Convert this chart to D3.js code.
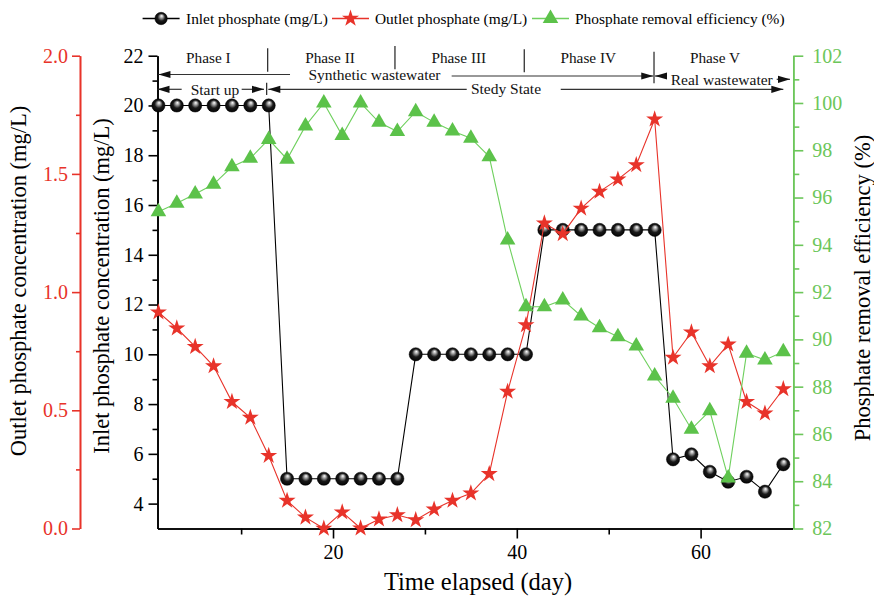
<!DOCTYPE html>
<html>
<head>
<meta charset="utf-8">
<script src="https://cdn.jsdelivr.net/npm/d3@7"></script>
<style>
  html, body { margin: 0; padding: 0; background: #fff; }
  svg { display: block; }
  text { font-family: "Liberation Serif", "Times New Roman", serif; }
</style>
</head>
<body>
<svg id="chart" width="874" height="598"></svg>
<script>
// ---------------- DATA ----------------
const days = [1,3,5,7,9,11,13,15,17,19,21,23,25,27,29,31,33,35,37,39,41,43,45,47,49,51,53,55,57,59,61,63,65,67,69];
const inletP = [20,20,20,20,20,20,20, 5,5,5,5,5,5,5, 10,10,10,10,10,10,10, 15,15,15,15,15,15,15, 5.78,5.98,5.28,4.88,5.08,4.48,5.58];
const outletP = [0.915,0.847,0.769,0.687,0.536,0.469,0.308,0.118,0.047,0.0,0.069,0.001,0.039,0.057,0.036,0.081,0.118,0.149,0.231,0.579,0.861,1.291,1.246,1.354,1.425,1.477,1.538,1.731,0.723,0.83,0.687,0.779,0.536,0.487,0.59];
const efficiency = [95.40,95.76,96.15,96.56,97.30,97.66,98.46,97.62,99.03,100.0,98.62,100.0,99.18,98.79,99.63,99.18,98.81,98.51,97.73,94.2,91.38,91.38,91.67,90.99,90.49,90.11,89.72,88.45,87.51,86.2,86.98,84.14,89.41,89.13,89.48];

const seriesNames = ["Inlet phosphate (mg/L)", "Outlet phosphate (mg/L)", "Phosphate removal efficiency (%)"];
const xTicks = [20, 40, 60];
const xMinor = [10, 30, 50];
const inletTicks = [4,6,8,10,12,14,16,18,20,22];
const inletMinor = [5,7,9,11,13,15,17,19,21];
const outletTicks = [0.0, 0.5, 1.0, 1.5, 2.0];
const outletMinor = [0.25, 0.75, 1.25, 1.75];
const effTicks = [82,84,86,88,90,92,94,96,98,100,102];
const effMinor = [83,85,87,89,91,93,95,97,99,101];

const phaseLabels = ["Phase I", "Phase II", "Phase III", "Phase IV", "Phase V"];
const phaseCenters = [6.43, 19.67, 33.69, 47.78, 61.57];   // day units
const phaseBounds = [12.89, 26.74, 40.81, 54.93];          // day units

// ---------------- LAYOUT ----------------
const red = "#e8332a", green = "#5cc24a", greenAxis = "#6cc65a", black = "#000";
const plotL = 157.5, plotR = 792.5, plotT = 55.7, plotB = 528.5;

const svg = d3.select("#chart");

const x = d3.scaleLinear().domain([0.9, 70]).range([plotL, plotR]);
const yIn = d3.scaleLinear().domain([3, 22]).range([plotB, plotT]);
const yOut = d3.scaleLinear().domain([0, 2]).range([plotB, plotT]);
const yEff = d3.scaleLinear().domain([82, 102]).range([plotB, plotT]);

// gradient for ball markers
const defs = svg.append("defs");
const grad = defs.append("radialGradient").attr("id", "ball")
  .attr("cx", "50%").attr("cy", "50%").attr("r", "55%")
  .attr("fx", "55%").attr("fy", "28%");
grad.append("stop").attr("offset", "0%").attr("stop-color", "#ffffff");
grad.append("stop").attr("offset", "22%").attr("stop-color", "#aaaaaa");
grad.append("stop").attr("offset", "55%").attr("stop-color", "#1a1a1a");
grad.append("stop").attr("offset", "100%").attr("stop-color", "#000000");

// ---------------- AXES ----------------
function styleAxis(g, color, fontSize) {
  g.attr("font-family", null);
  g.selectAll("path.domain").attr("stroke", color).attr("stroke-width", 1.6);
  g.selectAll(".tick line").attr("stroke", color).attr("stroke-width", 1.6);
  g.selectAll(".tick text").attr("fill", color)
    .style("font-family", '"Liberation Serif", "Times New Roman", serif')
    .style("font-size", fontSize + "px");
}

// bottom axis
const gxMinor = svg.append("g").attr("transform", `translate(0,${plotB})`)
  .call(d3.axisBottom(x).tickValues(xMinor).tickSize(6).tickSizeOuter(0).tickFormat(""));
styleAxis(gxMinor, black, 20);
const gx = svg.append("g").attr("transform", `translate(0,${plotB})`)
  .call(d3.axisBottom(x).tickValues(xTicks).tickSize(10).tickSizeOuter(0).tickPadding(6).tickFormat(d3.format("d")));
styleAxis(gx, black, 20);

// inlet (left, black)
const gInMinor = svg.append("g").attr("transform", `translate(${plotL},0)`)
  .call(d3.axisLeft(yIn).tickValues(inletMinor).tickSize(5).tickSizeOuter(0).tickFormat(""));
styleAxis(gInMinor, black, 20);
const gIn = svg.append("g").attr("transform", `translate(${plotL},0)`)
  .call(d3.axisLeft(yIn).tickValues(inletTicks).tickSize(9).tickSizeOuter(0).tickPadding(5).tickFormat(d3.format("d")));
styleAxis(gIn, black, 20);

// outlet (far left, red)
const outX = 80;
const gOutMinor = svg.append("g").attr("transform", `translate(${outX},0)`)
  .call(d3.axisLeft(yOut).tickValues(outletMinor).tickSize(4).tickSizeOuter(0).tickFormat(""));
styleAxis(gOutMinor, red, 20);
const gOut = svg.append("g").attr("transform", `translate(${outX},0)`)
  .call(d3.axisLeft(yOut).tickValues(outletTicks).tickSize(8).tickSizeOuter(0).tickPadding(4).tickFormat(d3.format(".1f")));
styleAxis(gOut, red, 20);

// efficiency (right, green)
const effX = 793.3;
const gEffMinor = svg.append("g").attr("transform", `translate(${effX},0)`)
  .call(d3.axisRight(yEff).tickValues(effMinor).tickSize(6).tickSizeOuter(0).tickFormat(""));
styleAxis(gEffMinor, greenAxis, 20);
const gEff = svg.append("g").attr("transform", `translate(${effX},0)`)
  .call(d3.axisRight(yEff).tickValues(effTicks).tickSize(10).tickSizeOuter(0).tickPadding(9).tickFormat(d3.format("d")));
styleAxis(gEff, greenAxis, 20);

// axis titles
svg.append("text").attr("transform", `translate(26,281) rotate(-90)`)
  .attr("text-anchor", "middle").style("font-size", "22.5px").attr("fill", "#000")
  .text("Outlet phosphate concentration (mg/L)");
svg.append("text").attr("transform", `translate(109,286) rotate(-90)`)
  .attr("text-anchor", "middle").style("font-size", "22.5px").attr("fill", "#000")
  .text("Inlet phosphate concentration (mg/L)");
svg.append("text").attr("transform", `translate(870,288) rotate(-90)`)
  .attr("text-anchor", "middle").style("font-size", "22.5px").attr("fill", "#000")
  .text("Phosphate removal efficiency (%)");
svg.append("text").attr("x", 478).attr("y", 590)
  .attr("text-anchor", "middle").style("font-size", "24.5px").attr("fill", "#000")
  .text("Time elapsed (day)");

// ---------------- SERIES ----------------
const starSym = d3.symbol().type(d3.symbolStar).size(90);
const triSym = d3.symbol().type(d3.symbolTriangle).size(105);

const inletData = days.map((d, i) => ({ d, v: inletP[i] }));
const outletData = days.map((d, i) => ({ d, v: outletP[i] }));
const effData = days.map((d, i) => ({ d, v: efficiency[i] }));

// inlet
svg.append("path").datum(inletData)
  .attr("fill", "none").attr("stroke", "#000").attr("stroke-width", 1.1)
  .attr("d", d3.line().x(p => x(p.d)).y(p => yIn(p.v)));
svg.append("g").selectAll("circle").data(inletData).join("circle")
  .attr("cx", p => x(p.d)).attr("cy", p => yIn(p.v)).attr("r", 6.6)
  .attr("fill", "url(#ball)").attr("stroke", "#000").attr("stroke-width", 0.5);

// outlet
svg.append("path").datum(outletData)
  .attr("fill", "none").attr("stroke", red).attr("stroke-width", 1.1)
  .attr("d", d3.line().x(p => x(p.d)).y(p => yOut(p.v)));
svg.append("g").selectAll("path").data(outletData).join("path")
  .attr("transform", p => `translate(${x(p.d)},${yOut(p.v)})`)
  .attr("d", starSym).attr("fill", red);

// efficiency
svg.append("path").datum(effData)
  .attr("fill", "none").attr("stroke", "#6fd05e").attr("stroke-width", 1.1)
  .attr("d", d3.line().x(p => x(p.d)).y(p => yEff(p.v)));
svg.append("g").selectAll("path").data(effData).join("path")
  .attr("transform", p => `translate(${x(p.d)},${yEff(p.v)})`)
  .attr("d", triSym).attr("fill", green);

// ---------------- PHASE ANNOTATIONS ----------------
const ann = svg.append("g");
const annColor = "#222";
const sepY = [[48.3, 71.7], [46, 69.3], [49.3, 72.3], [51.7, 83.3]];
phaseBounds.forEach((b, i) => {
  ann.append("line").attr("x1", x(b)).attr("x2", x(b))
    .attr("y1", sepY[i][0]).attr("y2", sepY[i][1])
    .attr("stroke", annColor).attr("stroke-width", 1.2);
});
// small separator in the start-up row
ann.append("line").attr("x1", x(12.78)).attr("x2", x(12.78)).attr("y1", 82.7).attr("y2", 95)
  .attr("stroke", annColor).attr("stroke-width", 1.2);

phaseLabels.forEach((t, i) => {
  ann.append("text").attr("x", x(phaseCenters[i])).attr("y", 62.8)
    .attr("text-anchor", "middle").style("font-size", "15.3px").attr("fill", "#111").text(t);
});

function arrow(d1, d2, y1, y2, headAt) {
  const xa = x(d1), xb = x(d2);
  ann.append("line").attr("x1", xa).attr("x2", xb).attr("y1", y1).attr("y2", y2)
    .attr("stroke", "#333").attr("stroke-width", 1.2);
  const L = 12, W = 3.6;
  if (headAt === "start") {
    ann.append("path").attr("d", `M${xa},${y1} L${xa + L},${y1 - W} L${xa + L},${y1 + W} Z`).attr("fill", "#111");
  } else {
    ann.append("path").attr("d", `M${xb},${y2} L${xb - L},${y2 - W} L${xb - L},${y2 + W} Z`).attr("fill", "#111");
  }
}
// Synthetic wastewater
arrow(1.0, 15.32, 74.5, 74.5, "start");
arrow(32.91, 54.85, 76, 76, "end");
// Real wastewater
arrow(55.04, 56.34, 76, 76, "start");
arrow(68.28, 69.73, 79.3, 79.3, "end");
// Start up
arrow(0.9, 3.53, 89.3, 89.3, "start");
arrow(10.06, 12.49, 89.3, 89.3, "end");
// Stedy State
arrow(12.96, 34.55, 89.3, 89.3, "start");
arrow(44.78, 69.0, 89.3, 89.3, "end");

const annTexts = [
  { t: "Synthetic wastewater", d: 24.51, y: 79.8 },
  { t: "Real wastewater", d: 62.3, y: 84.8 },
  { t: "Start up", d: 7.16, y: 94.6 },
  { t: "Stedy State", d: 38.82, y: 93.8 }
];
annTexts.forEach(a => {
  ann.append("text").attr("x", x(a.d)).attr("y", a.y).attr("text-anchor", "middle")
    .style("font-size", "15.5px").attr("fill", "#111").text(a.t);
});

// ---------------- LEGEND ----------------
const leg = svg.append("g");
const legY = 18.5;
const legItems = [
  { x0: 142.6, tx: 186, color: "#000", type: "ball" },
  { x0: 332, tx: 375, color: red, type: "star" },
  { x0: 532, tx: 575, color: "#6fd05e", type: "tri" }
];
legItems.forEach((it, i) => {
  leg.append("line").attr("x1", it.x0).attr("x2", it.x0 + 37).attr("y1", legY).attr("y2", legY)
    .attr("stroke", it.color).attr("stroke-width", 1.3);
  const cx = it.x0 + 18.5;
  if (it.type === "ball") {
    leg.append("circle").attr("cx", cx).attr("cy", legY).attr("r", 6.2)
      .attr("fill", "url(#ball)").attr("stroke", "#000").attr("stroke-width", 0.5);
  } else if (it.type === "star") {
    leg.append("path").attr("transform", `translate(${cx},${legY})`).attr("d", starSym).attr("fill", red);
  } else {
    leg.append("path").attr("transform", `translate(${cx},${legY})`).attr("d", triSym).attr("fill", green);
  }
  leg.append("text").attr("x", it.tx).attr("y", legY + 5.2).style("font-size", "15.4px")
    .attr("fill", "#000").text(seriesNames[i]);
});
</script>
</body>
</html>
